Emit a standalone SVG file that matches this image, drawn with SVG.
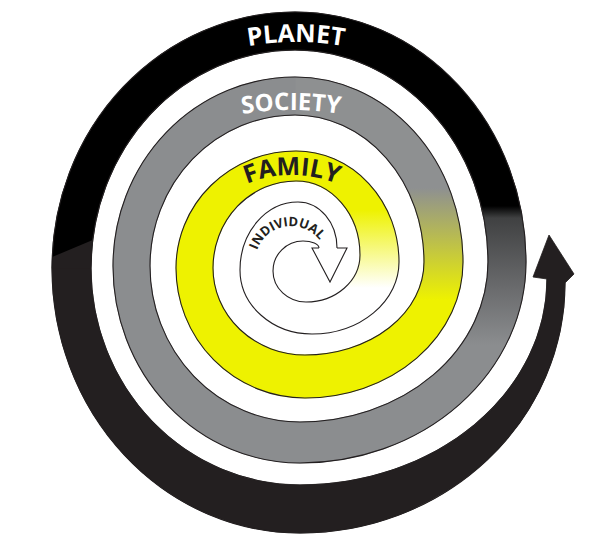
<svg xmlns="http://www.w3.org/2000/svg" width="612" height="539" viewBox="0 0 612 539">
<defs>
<linearGradient id="gWY" gradientUnits="userSpaceOnUse" x1="0" y1="288" x2="0" y2="210">
<stop offset="0" stop-color="#ffffff"/><stop offset="1" stop-color="#eef200"/>
</linearGradient>
<linearGradient id="gYG" gradientUnits="userSpaceOnUse" x1="0" y1="300" x2="0" y2="188">
<stop offset="0" stop-color="#eef200"/><stop offset="1" stop-color="#8e9091"/>
</linearGradient>
<linearGradient id="gGB" gradientUnits="userSpaceOnUse" x1="0" y1="345" x2="0" y2="200">
<stop offset="0" stop-color="#8b8d8f"/><stop offset="0.379" stop-color="#6b6c6e"/><stop offset="0.876" stop-color="#404142"/><stop offset="0.959" stop-color="#000000"/><stop offset="1" stop-color="#000000"/>
</linearGradient>
<path id="tpPlanet" d="M200.2,58.9 A280,280 0 0 1 391.8,58.9"/>
<path id="tpSociety" d="M188.4,128.1 A300,300 0 0 1 393.6,128.1"/>
<path id="tpFamily" d="M207.15,210.15 A120,120 0 0 1 376.85,210.15"/>
<path id="tpIndividual" d="M255.35,267 A36,36 0 0 1 326.45,255.75"/>
</defs>
<style>
.edge{fill:none;stroke:#231f20;stroke-width:1.1;stroke-linejoin:round}
.lbl{font-family:"Open Sans","Liberation Sans",sans-serif;font-weight:700;text-anchor:middle}
</style>
<rect width="612" height="539" fill="#ffffff"/>
<g id="spiral">
<g id="band-individual">
<path fill="#ffffff" stroke="#ffffff" stroke-width="0.8" d="M337,248 A39,46 0 0 0 298,202 A58,68 0 0 0 240,270 A72,64 0 0 0 312,334 L306,302 A33,31 0 0 1 273,271 A30,30 0 0 1 303,241 A16,7 0 0 1 319,248 Z"/>
<path fill="url(#gWY)" stroke="url(#gWY)" stroke-width="0.8" d="M312,334 A87,72 0 0 0 399,262 A103,111 0 0 0 296,151 L296,181 A64,74 0 0 1 360,255 A54,47 0 0 1 306,302 Z"/>
</g>
<g id="band-family">
<path fill="#eef200" stroke="#eef200" stroke-width="0.8" d="M296,151 A120,117 0 0 0 176,268 A129,130 0 0 0 305,398 L305,355 A92,87 0 0 1 213,268 A83,87 0 0 1 296,181 Z"/>
<path fill="url(#gYG)" stroke="url(#gYG)" stroke-width="0.8" d="M305,398 A158,136 0 0 0 463,262 A168,185 0 0 0 295,77 L295,115 A129,147 0 0 1 424,262 A119,93 0 0 1 305,355 Z"/>
</g>
<g id="band-society">
<path fill="#8b8d8f" stroke="#8b8d8f" stroke-width="0.8" d="M295,77 A182,189 0 0 0 113,266 A187,197 0 0 0 300,463 L300,422 A150,156 0 0 1 150,266 A145,151 0 0 1 295,115 Z"/>
<path fill="url(#gGB)" stroke="url(#gGB)" stroke-width="0.8" d="M300,463 A226,201 0 0 0 526,262 A231,250 0 0 0 295,12 L295,50 A193,212 0 0 1 488,262 A188,160 0 0 1 300,422 Z"/>
</g>
<g id="band-planet">
<path fill="#000000" stroke="#000000" stroke-width="0.8" d="M295,12 A243,256 0 0 0 52,268 L91,268 A204,218 0 0 1 295,50 Z"/>
<path fill="#231f20" stroke="#231f20" stroke-width="0.8" d="M52,268 A248,265 0 0 0 300,533 A265,250 0 0 0 565,283 L574,274 L549,235 L533,277 L547,279 A247,206 0 0 1 300,485 A209,217 0 0 1 91,268 Z"/>
<path fill="#231f20" d="M52,268 L52.2,257 L92.7,240 L91,268 Z"/>
</g>
<g id="edges">
<path class="edge" d="M337,248 A39,46 0 0 0 298,202 A58,68 0 0 0 240,270 A72,64 0 0 0 312,334 A87,72 0 0 0 399,262 A103,111 0 0 0 296,151 A120,117 0 0 0 176,268 A129,130 0 0 0 305,398 A158,136 0 0 0 463,262 A168,185 0 0 0 295,77 A182,189 0 0 0 113,266 A187,197 0 0 0 300,463 A226,201 0 0 0 526,262 A231,250 0 0 0 295,12 A243,256 0 0 0 52,268 A248,265 0 0 0 300,533 A265,250 0 0 0 565,283"/>
<path class="edge" d="M319,248 A16,7 0 0 0 303,241 A30,30 0 0 0 273,271 A33,31 0 0 0 306,302 A54,47 0 0 0 360,255 A64,74 0 0 0 296,181 A83,87 0 0 0 213,268 A92,87 0 0 0 305,355 A119,93 0 0 0 424,262 A129,147 0 0 0 295,115 A145,151 0 0 0 150,266 A150,156 0 0 0 300,422 A188,160 0 0 0 488,262 A193,212 0 0 0 295,50 A204,218 0 0 0 91,268 A209,217 0 0 0 300,485 A247,206 0 0 0 547,279"/>
<path id="arrow-inner" fill="#ffffff" stroke="#231f20" stroke-width="1.1" stroke-linejoin="miter" d="M337,248 L347,248 L330,282 L312,248 L319,248"/>
</g>
</g>
<g id="label-planet"><text class="lbl" fill="#ffffff" font-size="25"><textPath href="#tpPlanet" startOffset="50%">PLANET</textPath></text></g>
<g id="label-society"><text class="lbl" fill="#ffffff" font-size="24"><textPath href="#tpSociety" startOffset="50%">SOCIETY</textPath></text></g>
<g id="label-family"><text class="lbl" fill="#231f20" font-size="25"><textPath href="#tpFamily" startOffset="50%">FAMILY</textPath></text></g>
<g id="label-individual"><text class="lbl" fill="#231f20" font-size="13"><textPath href="#tpIndividual" startOffset="50%">INDIVIDUAL</textPath></text></g>
</svg>
